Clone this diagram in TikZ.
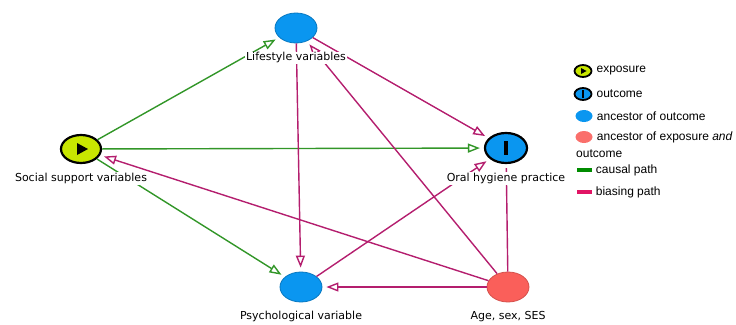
\documentclass[tikz,border=0pt]{standalone}
\usepackage{fontspec}
\setmainfont{Liberation Sans}
\newfontfamily\labelfont{DejaVu Sans}
\usetikzlibrary{positioning, shapes.geometric, arrows.meta}
\definecolor{expyellow}{RGB}{200,230,0}
\definecolor{ancblue}{RGB}{10,150,240}
\definecolor{ancred}{RGB}{250,95,90}
\definecolor{causalgreen}{RGB}{50,150,40}
\definecolor{biaspink}{RGB}{180,30,110}
\definecolor{keygreen}{RGB}{0,140,0}
\definecolor{keypink}{RGB}{225,20,100}

\begin{document}
\begin{tikzpicture}[x=1pt, y=-1pt, node distance=8pt,
  var/.style={ellipse, minimum width=42pt, minimum height=30pt, inner sep=0pt},
  keyvar/.style={var, draw=black, line width=2.2pt},
  ancvar/.style={var, fill=ancblue, draw=ancblue!80!black, line width=0.8pt},
  varlabel/.style={fill=white, inner sep=1pt, font=\labelfont\fontsize{11}{13}\selectfont},
  causal/.style={draw=causalgreen, line width=1.4pt, shorten >=4pt, -{Triangle[length=12pt, width=9pt, fill=white]}},
  biasing/.style={draw=biaspink, line width=1.4pt, shorten >=4pt, -{Triangle[length=12pt, width=9pt, fill=white]}},
  keyicon/.style={ellipse, minimum width=17pt, minimum height=12pt, inner sep=0pt},
  keybar/.style={rectangle, minimum width=15pt, minimum height=3.5pt, inner sep=0pt},
  keytext/.style={inner sep=0pt, font=\fontsize{12}{14}\selectfont}]

\useasboundingbox (0,0) rectangle (736,324);

% Variables
\node[keyvar, fill=expyellow, minimum width=40pt, minimum height=28pt] (S) at (81,149) {};
\node[keyvar, fill=ancblue] (O) at (506,148) {};
\node[ancvar] (L) at (296,28) {};
\node[ancvar] (P) at (301,287) {};
\node[var, fill=ancred, draw=ancred!85!black, line width=0.8pt] (A) at (508,287) {};

% exposure / outcome marks
\fill ([shift={(-4,-6)}]S.center) -- ([shift={(7,0)}]S.center) -- ([shift={(-4,6)}]S.center) -- cycle;
\fill ([shift={(-2,-7)}]O.center) rectangle ([shift={(2,7)}]O.center);

% Causal paths
\draw[causal] (S) -- (L);
\draw[causal] (S) -- (O);
\draw[causal] (S) -- (P);

% Biasing paths
\draw[biasing] (L) -- (O);
\draw[biasing] (L) -- (P);
\draw[biasing] (P) -- (O);
\draw[biasing] (A) -- (L);
\draw[biasing] (A) -- (S);
\draw[biasing] (A) -- (P);
\draw[biasing, -] (A) -- (O);

% Labels
\node[varlabel, below=of L] (Llab) {Lifestyle variables};
\node[varlabel, below=of S] (Slab) {Social support variables};
\node[varlabel, below=of O] (Olab) {Oral hygiene practice};
\node[varlabel, below=of P] (Plab) {Psychological variable};
\node[varlabel, below=of A] (Alab) {Age, sex, SES};

% Legend
\node[keyicon, fill=expyellow, draw=black, line width=1.8pt] (kexp) at (583,71) {};
\fill ([shift={(-2,-3)}]kexp.center) -- ([shift={(3.5,0)}]kexp.center) -- ([shift={(-2,3)}]kexp.center) -- cycle;
\node[keytext, right=4pt of kexp] (texp) {exposure};

\node[keyicon, fill=ancblue, draw=black, line width=1.8pt] (kout) at (583,94) {};
\fill ([shift={(-1,-4)}]kout.center) rectangle ([shift={(1,4)}]kout.center);
\node[keytext, right=4pt of kout] (tout) {outcome};

\node[keyicon, fill=ancblue] (kanc) at (584,116) {};
\node[keytext, right=4pt of kanc] (tanc) {ancestor of outcome};

\node[keyicon, fill=ancred!90!white] (kboth) at (584,137) {};
\node[keytext, right=4pt of kboth] (tboth) {ancestor of exposure \textit{and}};
\node[keytext, anchor=west] (tboth2) at (576,154) {outcome};

\node[keybar, fill=keygreen] (kcausal) at (584,170) {};
\node[keytext, right=4pt of kcausal] (tcausal) {causal path};

\node[keybar, fill=keypink] (kbias) at (584,192) {};
\node[keytext, right=4pt of kbias] (tbias) {biasing path};

\end{tikzpicture}
\end{document}
